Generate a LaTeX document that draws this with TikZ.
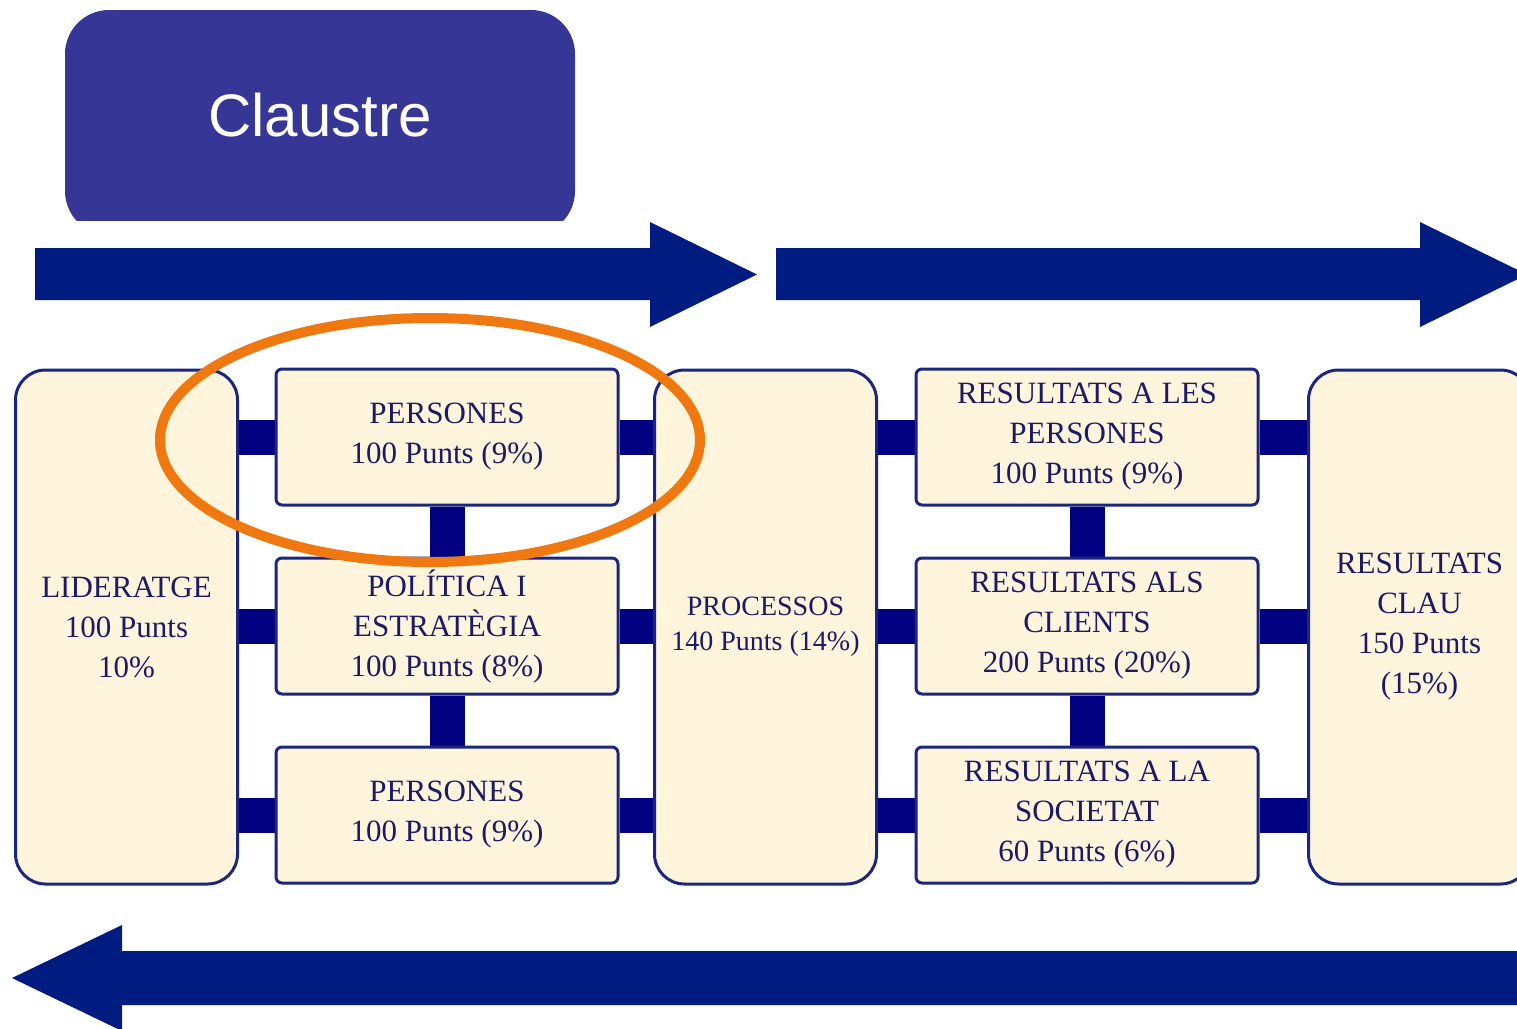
\documentclass[tikz,border=0pt]{standalone}
\usepackage{fontspec}
\setmainfont{Liberation Serif}
\newfontfamily\claustrefont{Liberation Sans}
\usetikzlibrary{backgrounds}
\definecolor{claustreblue}{HTML}{363696}
\definecolor{arrowblue}{HTML}{001C80}
\definecolor{barblue}{HTML}{000080}
\definecolor{boxline}{HTML}{1A2680}
\definecolor{boxfill}{HTML}{FFF5DC}
\definecolor{boxtext}{HTML}{1A1A66}
\definecolor{ringorange}{HTML}{F07810}
\begin{document}
\begin{tikzpicture}[x=0.5pt, y=-0.5pt,
    tallbox/.style={draw=boxline, line width=1.5pt, fill=boxfill, rounded corners=15pt,
        minimum width=111pt, minimum height=257pt, align=center, text=boxtext,
        font=\fontsize{15.5}{20}\selectfont},
    critbox/.style={draw=boxline, line width=1.5pt, fill=boxfill, rounded corners=3pt,
        minimum width=171pt, minimum height=68pt, align=center, text=boxtext,
        font=\fontsize{15.5}{20}\selectfont},
    bar/.style={barblue, line width=17.5pt},
    bigarrow/.style={fill=arrowblue}]

    \clip (0,0) rectangle (1517,1029);

    % claustre
    \begin{scope}
        \clip (0,0) rectangle (1517,220);
        \fill[claustreblue, rounded corners=22pt] (65,10) rectangle (575,235);
    \end{scope}
    \node[text=white, font=\claustrefont\fontsize{30}{36}\selectfont] (claustre) at (320,115) {Claustre};

    % big arrows
    \fill[bigarrow] (35,248) -- (650,248) -- (650,222) -- (757,274.5) -- (650,327) -- (650,300) -- (35,300) -- cycle;
    \fill[bigarrow] (776,248) -- (1420,248) -- (1420,222) -- (1527,274.5) -- (1420,327) -- (1420,300) -- (776,300) -- cycle;
    \fill[bigarrow] (1530,951) -- (122,951) -- (122,925) -- (12,978) -- (122,1031) -- (122,1005) -- (1530,1005) -- cycle;

    % criteria
    \node[tallbox] (lid) at (126.5,627) {LIDERATGE\\100 Punts\\10\%};
    \node[critbox] (pers) at (447,437) {PERSONES\\100 Punts (9\%)};
    \node[critbox] (pol) at (447,626) {POLÍTICA I\\ESTRATÈGIA\\100 Punts (8\%)};
    \node[critbox] (pers2) at (447,815) {PERSONES\\100 Punts (9\%)};
    \node[tallbox, font=\fontsize{14}{17.5}\selectfont] (proc) at (765.5,627) {PROCESSOS\\140 Punts (14\%)};
    \node[critbox] (rpers) at (1087,437) {RESULTATS A LES\\PERSONES\\100 Punts (9\%)};
    \node[critbox] (rcli) at (1087,626) {RESULTATS ALS\\CLIENTS\\200 Punts (20\%)};
    \node[critbox] (rsoc) at (1087,815) {RESULTATS A LA\\SOCIETAT\\60 Punts (6\%)};
    \node[tallbox] (clau) at (1419.5,627) {RESULTATS\\CLAU\\150 Punts\\(15\%)};

    \begin{scope}[on background layer]
        \foreach \a/\b in {pers/pol, pol/pers2}
            \draw[bar] (\a) -- (\b);
        \foreach \a/\b in {rpers/rcli, rcli/rsoc}
            \draw[bar, xshift=-2pt] (\a) -- (\b);
        \foreach \a in {pers, pol, pers2} {
            \draw[bar] (lid.center |- \a) -- (\a);
            \draw[bar] (\a) -- (proc.center |- \a);
        }
        \foreach \a in {rpers, rcli, rsoc} {
            \draw[bar] (proc.center |- \a) -- (\a);
            \draw[bar] (\a) -- (clau.center |- \a);
        }
    \end{scope}

    % highlight
    \draw[ringorange, line width=5pt] (430,440) ellipse [x radius=270, y radius=122];
\end{tikzpicture}
\end{document}
